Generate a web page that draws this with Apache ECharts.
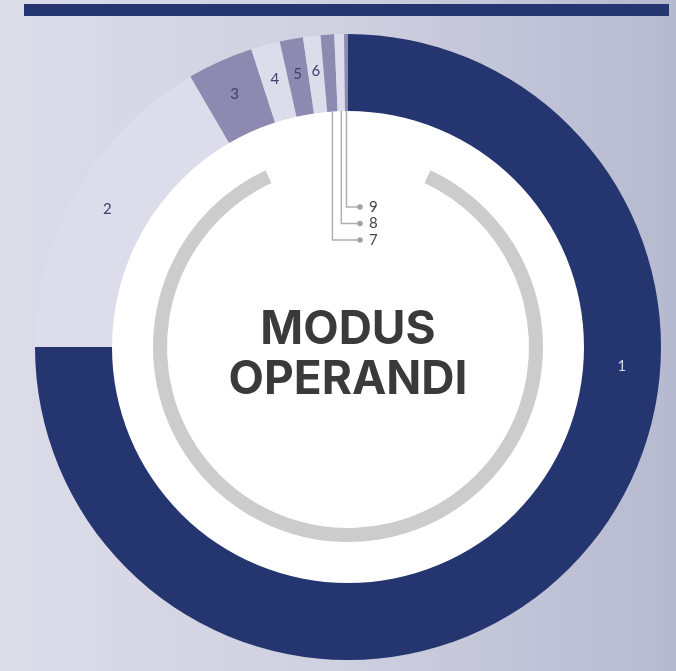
<!DOCTYPE html>
<html>
<head>
<meta charset="utf-8">
<script src="https://cdn.jsdelivr.net/npm/echarts@6/dist/echarts.min.js"></script>
<style>
  html, body { margin: 0; padding: 0; }
  body { background: linear-gradient(90deg, #dcdce9 0%, #cfd0e0 50%, #b6bad0 100%); }
  #chart { width: 676px; height: 671px; }
</style>
</head>
<body>
<div id="chart"></div>
<script>
// slice names and their share of the ring (percent)
var sliceNames = ['1', '2', '3', '4', '5', '6', '7', '8', '9'];
var sliceShares = [75, 16.6, 3.4, 1.5, 1.2, 0.9, 0.7, 0.5, 0.2];
var calloutSlices = [6, 7, 8];   // small slices labelled with a leader line
var centerTitle = ['MODUS', 'OPERANDI'];

// layout
var cx = 348, cy = 347;
var rInner = 236, rOuter = 313;
var rMid = (rInner + rOuter) / 2;
var label1Angle = 94;            // label "1" sits on the right side
var calloutTop = 207, calloutStep = 16.5, calloutDotX = 360;

var navy = '#253570', light = '#dddcea', purple = '#8d89b1';
var sliceColors = [navy, light, purple, light, purple, light, purple, light, purple];

var total = sliceShares.reduce(function (a, b) { return a + b; }, 0);

// mid angle of a slice, degrees clockwise from 12 o'clock
function midAngle(i) {
	var before = 0;
	for (var k = 0; k < i; k++) before += sliceShares[k];
	return (before + sliceShares[i] / 2) / total * 360;
}
function polar(r, deg) {
	var a = deg * Math.PI / 180;
	return [cx + r * Math.sin(a), cy - r * Math.cos(a)];
}

var pieData = sliceNames.map(function (n, i) {
	var item = { name: n, value: sliceShares[i], itemStyle: { color: sliceColors[i] } };
	if (i === 0) item.label = { color: '#d3d7e8' };
	if (calloutSlices.indexOf(i) >= 0) item.label = { show: false };
	return item;
});

// leader lines, dots and numbers for the thin slices
var callouts = [];
calloutSlices.forEach(function (i) {
	var yL = calloutTop + calloutStep * (8 - i);
	var s = polar(rInner, midAngle(i));
	callouts.push({
		type: 'polyline', silent: true, z: 10,
		shape: { points: [s, [s[0], yL], [calloutDotX, yL]] },
		style: { stroke: '#b0b0b0', lineWidth: 1.5, fill: null }
	});
	callouts.push({
		type: 'circle', silent: true, z: 10,
		shape: { cx: calloutDotX, cy: yL, r: 2.8 },
		style: { fill: '#a3a3a3' }
	});
	callouts.push({
		type: 'text', silent: true, z: 10,
		x: calloutDotX + 9, y: yL,
		style: { text: sliceNames[i], fill: '#444444', font: '15px Lato', align: 'left', verticalAlign: 'middle' }
	});
});

var myChart = echarts.init(document.getElementById('chart'), null, { renderer: 'canvas' });
var option = {
	backgroundColor: 'transparent',
	animation: false,
	graphic: [
		{ type: 'rect', silent: true, shape: { x: 24, y: 4, width: 645, height: 12 }, style: { fill: navy } },
		{
			type: 'text', silent: true, z: 10,
			x: cx, y: cy + 8,
			style: {
				text: centerTitle.join('\n'),
				font: 'bold 46px Inter',
				lineHeight: 50,
				fill: '#3a3a3a',
				align: 'center',
				verticalAlign: 'middle'
			}
		}
	].concat(callouts),
	series: [
		{
			// white disk
			type: 'pie',
			silent: true,
			center: [cx, cy],
			radius: [0, rInner + 1],
			label: { show: false },
			labelLine: { show: false },
			emphasis: { disabled: true },
			data: [{ value: 1, name: 'disk', itemStyle: { color: '#ffffff' } }]
		},
		{
			// grey inner ring with a gap at the top
			type: 'pie',
			silent: true,
			center: [cx, cy],
			radius: [181, 195],
			startAngle: 65,
			label: { show: false },
			labelLine: { show: false },
			emphasis: { disabled: true },
			data: [
				{ value: 310, name: 'ring', itemStyle: { color: '#cccccc' } },
				{ value: 50, name: 'gap', itemStyle: { color: 'rgba(0,0,0,0)' } }
			]
		},
		{
			type: 'pie',
			silent: true,
			center: [cx, cy],
			radius: [rInner, rOuter],
			startAngle: 90,
			avoidLabelOverlap: false,
			emphasis: { disabled: true },
			label: {
				show: true,
				position: 'inside',
				formatter: '{b}',
				fontFamily: 'Lato',
				fontSize: 15,
				color: '#3e4070'
			},
			labelLine: { show: false },
			labelLayout: function (p) {
				if (p.dataIndex === 0) {
					var pt = polar(rMid, label1Angle);
					return { x: pt[0], y: pt[1], align: 'center', verticalAlign: 'middle' };
				}
			},
			data: pieData
		}
	]
};
myChart.setOption(option);
</script>
</body>
</html>
